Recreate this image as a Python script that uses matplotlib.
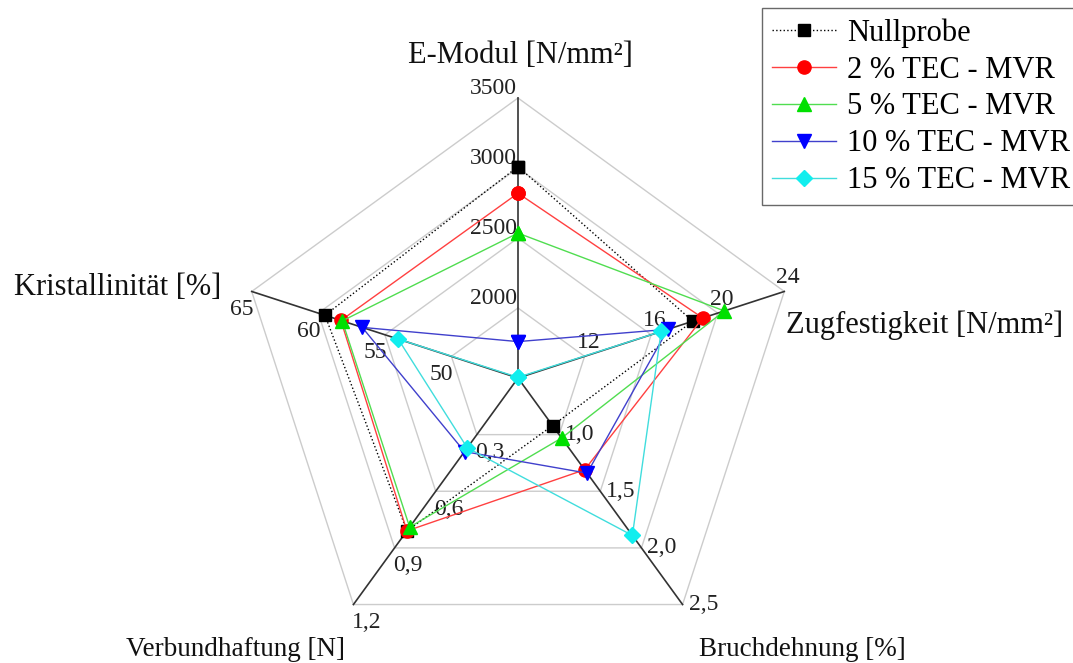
import numpy as np
import matplotlib
matplotlib.use("Agg")
import matplotlib.pyplot as plt

plt.rcParams['font.family'] = ['Liberation Serif', 'DejaVu Serif']

# Achsen (Reihenfolge im Uhrzeigersinn ab oben)
axis_titles = ["E-Modul [N/mm²]", "Zugfestigkeit [N/mm²]", "Bruchdehnung [%]",
               "Verbundhaftung [N]", "Kristallinität [%]"]
axis_min = [1500, 8, 0.5, 0.0, 45]
axis_max = [3500, 24, 2.5, 1.2, 65]
tick_labels = [
    ["2000", "2500", "3000", "3500"],
    ["12", "16", "20", "24"],
    ["1,0", "1,5", "2,0", "2,5"],
    ["0,3", "0,6", "0,9", "1,2"],
    ["50", "55", "60", "65"],
]

series_names = ["Nullprobe", "2 % TEC - MVR", "5 % TEC - MVR",
                "10 % TEC - MVR", "15 % TEC - MVR"]
e_modul = [3010, 2820, 2535, 1760, 1505]
zugfestigkeit = [18.5, 19.1, 20.4, 17.0, 16.6]
bruchdehnung = [0.92, 1.31, 1.03, 1.34, 1.89]
verbundhaftung = [0.81, 0.81, 0.79, 0.39, 0.37]
kristallinitaet = [59.5, 58.3, 58.2, 56.7, 54.0]

line_colors = ["black", "#ff4040", "#50dd50", "#4040cc", "#40dddd"]
marker_colors = ["black", "#ff0000", "#00e000", "#0000ff", "#11eeee"]
markers = ["s", "o", "^", "v", "D"]
styles = [":", "-", "-", "-", "-"]
msizes = [8.5, 9.5, 10, 10, 8.5]

W, H = 1073, 663
CX, CY, R = 518, 378, 280  # Mittelpunkt und Radius in Pixeln

angles = np.deg2rad([90, 18, -54, -126, 162])
ux, uy = np.cos(angles), np.sin(angles)


def to_xy(i, v):
    r = (v - axis_min[i]) / (axis_max[i] - axis_min[i])
    return r * ux[i], r * uy[i]


fig = plt.figure(figsize=(W / 100, H / 100), dpi=100)
ax = fig.add_axes([0, 0, 1, 1])
ax.set_xlim(-CX / R, (W - CX) / R)
ax.set_ylim(-(H - CY) / R, CY / R)
ax.axis('off')

px = 1.0 / R

# Gitter
for lev in [0.25, 0.5, 0.75, 1.0]:
    gx = np.append(lev * ux, lev * ux[0])
    gy = np.append(lev * uy, lev * uy[0])
    ax.plot(gx, gy, color="#cccccc", lw=1.0, zorder=1)

# Achsen
for i in range(5):
    ax.plot([0, ux[i]], [0, uy[i]], color="#333333", lw=1.2, zorder=2)

# Achsenbeschriftung
fs = 17
offs = [(-1, 9, 'right', 'center'), (4, 14, 'center', 'center'),
        (6, 0, 'left', 'center'), (13, -18, 'center', 'center'),
        (-10, -18, 'center', 'center')]
for i in range(5):
    dx, dy, ha, va = offs[i]
    for k, lab in enumerate(tick_labels[i]):
        lev = (k + 1) * 0.25
        ax.text(lev * ux[i] + dx * px, lev * uy[i] + dy * px, lab,
                ha=ha, va=va, fontsize=fs, color="#222222", zorder=3)

title_pos = [(520, 63, 'center', 22), (786, 333, 'left', 22),
             (802, 656, 'center', 19.5), (235, 656, 'center', 19.5),
             (221, 295, 'right', 22)]
for i, (tx, ty, ha, tfs) in enumerate(title_pos):
    ax.text((tx - CX) * px, (CY - ty) * px, axis_titles[i], ha=ha, va='baseline',
            fontsize=tfs, color="#111111")

# Datenreihen
data = [e_modul, zugfestigkeit, bruchdehnung, verbundhaftung, kristallinitaet]
for s in range(5):
    pts = [to_xy(i, data[i][s]) for i in range(5)]
    xs = [p[0] for p in pts] + [pts[0][0]]
    ys = [p[1] for p in pts] + [pts[0][1]]
    ax.plot(xs, ys, linestyle=styles[s], color=line_colors[s], lw=1.0,
            marker=markers[s], markersize=msizes[s], markerfacecolor=marker_colors[s],
            markeredgecolor=marker_colors[s], label=series_names[s], zorder=4 + s)

leg = ax.legend(loc='upper left', bbox_to_anchor=(762 / W, 1 - 8 / H),
                bbox_transform=fig.transFigure, fontsize=22, frameon=True,
                fancybox=False, edgecolor="#444444", handlelength=2.1,
                handletextpad=0.35, labelspacing=0.26, borderpad=0.33,
                borderaxespad=0)
leg.get_frame().set_linewidth(1.0)

fig.savefig("out.png", dpi=100)
